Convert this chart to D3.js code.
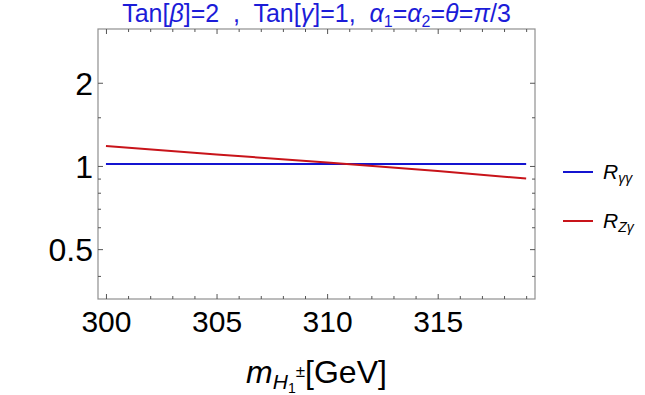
<!DOCTYPE html>
<html>
<head>
<meta charset="utf-8">
<script src="https://cdn.jsdelivr.net/npm/d3@7"></script>
<style>
  body { margin: 0; background: #fff; }
  text { font-family: "Liberation Sans", Arial, sans-serif; }
</style>
</head>
<body>
<svg id="chart" width="645" height="395"></svg>
<script>
// data
var masses = [300, 305, 310, 315, 319];
var rGammaGamma = [1.017, 1.017, 1.017, 1.017, 1.017];
var rZGamma = [1.18, 1.10, 1.03, 0.958, 0.90];

var xTicks = [300, 305, 310, 315];
var xMinor = d3.range(300, 320);
var yTicks = [0.5, 1, 2];
var yMinor = [0.4, 0.6, 0.7, 0.8, 0.9, 1.5];

var plotLeft = 98, plotRight = 535, plotTop = 29, plotBottom = 299;

var svg = d3.select("#chart");

// scales
var xScale = d3.scaleLinear()
    .domain([299.64, 319.4])
    .range([plotLeft, plotRight]);

var yScale = d3.scaleLog()
    .base(2)
    .domain([0.33, 3.13])
    .range([plotBottom, plotTop]);

// frame
svg.append("rect")
    .attr("x", plotLeft)
    .attr("y", plotTop)
    .attr("width", plotRight - plotLeft)
    .attr("height", plotBottom - plotTop)
    .attr("fill", "none")
    .attr("stroke", "#8f8f8f")
    .attr("stroke-width", 1.2);

function styleAxis(g) {
    g.select(".domain").remove();
    g.selectAll(".tick line").attr("stroke", "#555").attr("stroke-width", 1);
}

var xMinorOnly = xMinor.filter(function (d) { return xTicks.indexOf(d) < 0; });

// bottom axis, labelled
svg.append("g")
    .attr("transform", "translate(0," + plotBottom + ")")
    .call(d3.axisBottom(xScale).tickValues(xTicks).tickSize(-5).tickPadding(12).tickFormat(d3.format("d")))
    .call(styleAxis)
    .selectAll("text")
    .attr("font-size", 30)
    .attr("fill", "#000")
    .attr("font-family", "Liberation Sans, Arial, sans-serif");

svg.append("g")
    .attr("transform", "translate(0," + plotBottom + ")")
    .call(d3.axisBottom(xScale).tickValues(xMinorOnly).tickSize(-3).tickFormat(""))
    .call(styleAxis);

// top axis, ticks only
svg.append("g")
    .attr("transform", "translate(0," + plotTop + ")")
    .call(d3.axisTop(xScale).tickValues(xTicks).tickSize(-5).tickFormat(""))
    .call(styleAxis);

svg.append("g")
    .attr("transform", "translate(0," + plotTop + ")")
    .call(d3.axisTop(xScale).tickValues(xMinorOnly).tickSize(-3).tickFormat(""))
    .call(styleAxis);

// left axis, labelled
svg.append("g")
    .attr("transform", "translate(" + plotLeft + ",0)")
    .call(d3.axisLeft(yScale).tickValues(yTicks).tickSize(-5).tickPadding(5).tickFormat(function (d) { return String(d); }))
    .call(styleAxis)
    .selectAll("text")
    .attr("font-size", 32)
    .attr("fill", "#000")
    .attr("dy", "0.36em")
    .attr("font-family", "Liberation Sans, Arial, sans-serif");

svg.append("g")
    .attr("transform", "translate(" + plotLeft + ",0)")
    .call(d3.axisLeft(yScale).tickValues(yMinor).tickSize(-3).tickFormat(""))
    .call(styleAxis);

// right axis, ticks only
svg.append("g")
    .attr("transform", "translate(" + plotRight + ",0)")
    .call(d3.axisRight(yScale).tickValues(yTicks).tickSize(-5).tickFormat(""))
    .call(styleAxis);

svg.append("g")
    .attr("transform", "translate(" + plotRight + ",0)")
    .call(d3.axisRight(yScale).tickValues(yMinor).tickSize(-3).tickFormat(""))
    .call(styleAxis);

// lines
var lineFunction = d3.line()
    .x(function (d, i) { return xScale(masses[i]); })
    .y(function (d) { return yScale(d); });

svg.append("path")
    .attr("d", lineFunction(rGammaGamma))
    .attr("fill", "none")
    .attr("stroke", "#1414d0")
    .attr("stroke-width", 2);

svg.append("path")
    .attr("d", lineFunction(rZGamma))
    .attr("fill", "none")
    .attr("stroke", "#c8141a")
    .attr("stroke-width", 2);

// title
var title = svg.append("text")
    .attr("x", (plotLeft + plotRight) / 2)
    .attr("y", 22)
    .attr("text-anchor", "middle")
    .attr("font-size", 25)
    .attr("fill", "#1c1cd8")
    .style("white-space", "pre");

title.append("tspan").text("Tan[");
title.append("tspan").attr("font-style", "italic").text("β");
title.append("tspan").text("]=2  ,  Tan[");
title.append("tspan").attr("font-style", "italic").text("γ");
title.append("tspan").text("]=1,  ");
title.append("tspan").attr("font-style", "italic").text("α");
title.append("tspan").attr("font-size", 16).attr("dy", 5).text("1");
title.append("tspan").attr("dy", -5).text("=");
title.append("tspan").attr("font-style", "italic").text("α");
title.append("tspan").attr("font-size", 16).attr("dy", 5).text("2");
title.append("tspan").attr("dy", -5).text("=");
title.append("tspan").attr("font-style", "italic").text("θ");
title.append("tspan").text("=");
title.append("tspan").attr("font-style", "italic").text("π");
title.append("tspan").text("/3");

// x axis title
var xTitle = svg.append("text")
    .attr("x", (plotLeft + plotRight) / 2)
    .attr("y", 383)
    .attr("text-anchor", "middle")
    .attr("font-size", 32)
    .attr("fill", "#000");

xTitle.append("tspan").attr("font-style", "italic").text("m");
xTitle.append("tspan").attr("font-style", "italic").attr("font-size", 21).attr("dy", 6).text("H");
xTitle.append("tspan").attr("font-size", 14).attr("dy", 4).text("1");
xTitle.append("tspan").attr("font-size", 17).attr("dy", -16).text("±");
xTitle.append("tspan").attr("dy", 6).text("[GeV]");

// legend
var legendNames = [["R", "γγ"], ["R", "Zγ"]];
var legendColors = ["#1414d0", "#c8141a"];
var legendY = [172, 221];

legendNames.forEach(function (name, i) {
    svg.append("line")
        .attr("x1", 563)
        .attr("x2", 593)
        .attr("y1", legendY[i])
        .attr("y2", legendY[i])
        .attr("stroke", legendColors[i])
        .attr("stroke-width", 2);

    var t = svg.append("text")
        .attr("x", 603)
        .attr("y", legendY[i] + 7)
        .attr("font-size", 21)
        .attr("font-style", "italic")
        .attr("fill", "#000");
    t.append("tspan").text(name[0]);
    t.append("tspan").attr("font-size", 14).attr("dy", 4).text(name[1]);
});
</script>
</body>
</html>
